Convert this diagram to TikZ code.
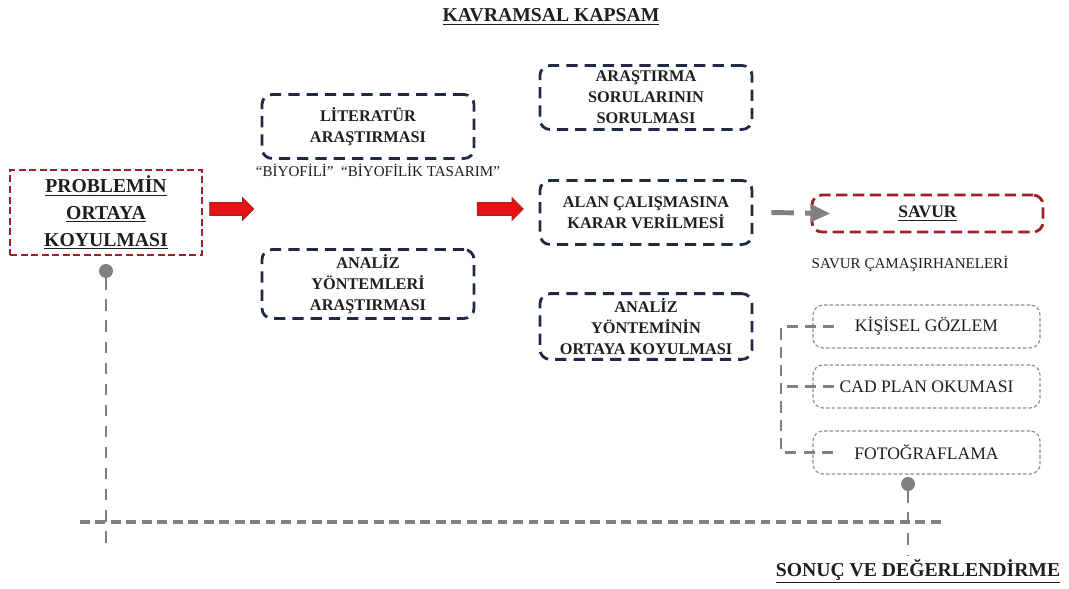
\documentclass[tikz,border=0pt]{standalone}
\usepackage{fontspec}
\setmainfont{Liberation Serif}
\usetikzlibrary{arrows.meta, shapes.arrows}
\definecolor{navy}{RGB}{32,42,68}
\definecolor{darkred}{RGB}{160,32,40}
\definecolor{arrred}{RGB}{228,18,18}
\definecolor{pingray}{RGB}{128,128,128}
\definecolor{boxgray}{RGB}{140,140,140}
\definecolor{ink}{RGB}{30,30,30}
\tikzset{
    stage/.style={rectangle, rounded corners=0.25cm, draw=navy, line width=2pt,
        dash pattern=on 8pt off 5pt, minimum width=5.3cm, minimum height=1.6cm,
        align=center, text=ink, font=\fontsize{11.6}{15}\selectfont\bfseries},
    focus/.style={rectangle, draw=darkred, line width=2pt,
        dash pattern=on 5pt off 2.5pt, align=center, text=ink},
    method/.style={rectangle, rounded corners=0.25cm, draw=boxgray, line width=0.8pt,
        dash pattern=on 2.5pt off 1.5pt, minimum width=5.675cm, minimum height=1.075cm,
        text=ink, font=\fontsize{12.5}{15}\selectfont},
    redarr/.style={single arrow, fill=arrred, draw=darkred, line width=0.6pt,
        minimum height=1.1cm, single arrow head extend=0.12cm,
        inner xsep=0pt, inner ysep=0.15cm},
    grayarr/.style={-{Triangle[length=0.5cm, width=0.42cm]}, draw=pingray,
        line width=3.5pt, dash pattern=on 16pt off 8pt},
    knob/.style={circle, fill=pingray, inner sep=0pt, minimum size=0.35cm},
    guide/.style={draw=pingray, line width=1.5pt, dash pattern=on 8pt off 7pt},
    timeline/.style={draw=pingray, line width=2.2pt, dash pattern=on 7pt off 4pt},
    brk/.style={draw=pingray, line width=1.5pt, dash pattern=on 8pt off 5pt},
    note/.style={text=ink, font=\fontsize{10.7}{13}\selectfont},
    heading/.style={text=ink, font=\fontsize{14}{17}\selectfont\bfseries}
}

\begin{document}
\begin{tikzpicture}[x=0.025cm, y=-0.025cm]
\useasboundingbox (0,0) rectangle (1069,589);

\node[heading] (title) at (551,17) {\underline{KAVRAMSAL KAPSAM}};

%% -- LEFT: problem and first arrow ---------------------------------
\node[focus, minimum width=4.8cm, minimum height=2.125cm,
      font=\fontsize{14}{19}\selectfont\bfseries] (problem) at (106,212.5)
      {\underline{PROBLEMİN}\\\underline{ORTAYA}\\\underline{KOYULMASI}};
\node[redarr] (arrA) at (228.5,209) {};

%% -- SECOND COLUMN --------------------------------------------------
\node[stage] (lit) at (368,126.5) {LİTERATÜR\\ARAŞTIRMASI};
\node[note] (bio) at (378,170) {“BİYOFİLİ”\ \ “BİYOFİLİK TASARIM”};
\node[stage] (yontem) at (368,284) {ANALİZ\\YÖNTEMLERİ\\ARAŞTIRMASI};
\node[redarr, minimum height=1.15cm] (arrB) at (497,209) {};

%% -- THIRD COLUMN ---------------------------------------------------
\node[stage] (soru)   at (646,97.5)  {ARAŞTIRMA\\SORULARININ\\SORULMASI};
\node[stage] (alan)   at (646,212.5) {ALAN ÇALIŞMASINA\\KARAR VERİLMESİ};
\node[stage] (analiz) at (646,326.5) {ANALİZ\\YÖNTEMİNİN\\ORTAYA KOYULMASI};

%% -- RIGHT: field study ---------------------------------------------
\node[focus, rounded corners=0.25cm, dash pattern=on 8pt off 4pt,
      minimum width=5.775cm, minimum height=0.925cm,
      font=\fontsize{12.5}{15}\selectfont\bfseries] (savur) at (927.5,213.5)
      {\underline{SAVUR}};
\node[note] (camasir) at (910,264) {SAVUR ÇAMAŞIRHANELERİ};
\node[method] (gozlem) at (926.5,326.5) {KİŞİSEL GÖZLEM};
\node[method] (cad)    at (926.5,386.5) {CAD PLAN OKUMASI};
\node[method] (foto)   at (926.5,452.5) {FOTOĞRAFLAMA};

\draw[grayarr] ([xshift=0.45cm]alan.east) -- ([xshift=0.5cm]savur.west);

%% bracket joining the three methods
\draw[brk] ([xshift=0.55cm]gozlem.west) -- ++(-53,0) |- ([xshift=0.55cm]foto.west);
\draw[brk] ([xshift=0.55cm]cad.west) -- ++(-53,0);

%% -- BOTTOM: evaluation line ----------------------------------------
\node[knob] (pinL) at (106,271) {};
\node[knob] (pinR) at (908,484) {};
\coordinate (endL) at (106,552);
\coordinate (endR) at (908,556);
\coordinate (tlA) at (80,522);
\coordinate (tlB) at (942,522);
\draw[guide] (pinL) -- (endL);
\draw[guide] (pinR) -- (endR);
\draw[timeline] (tlA) -- (tlB);

\node[heading] (sonuc) at (918,571) {\underline{SONUÇ VE DEĞERLENDİRME}};

\end{tikzpicture}
\end{document}
